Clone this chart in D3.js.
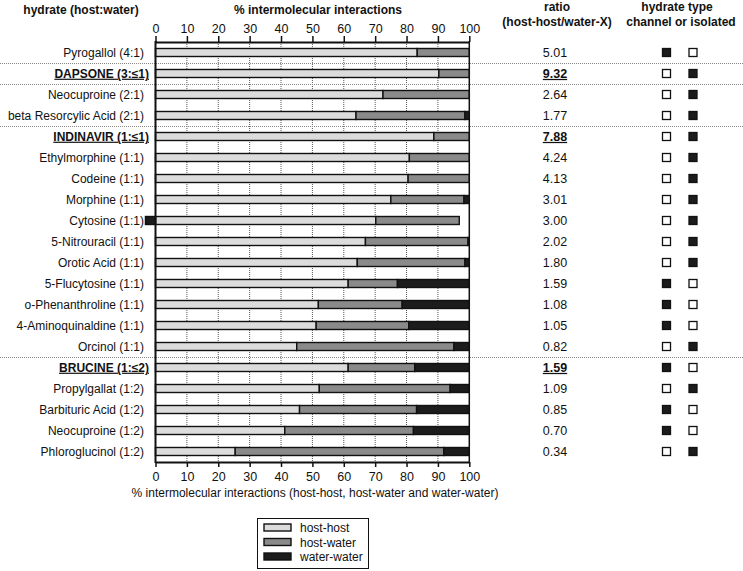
<!DOCTYPE html>
<html>
<head>
<meta charset="utf-8">
<script src="https://cdn.jsdelivr.net/npm/d3@7"></script>
<style>
  body { margin: 0; background: #fff; }
  svg { font-family: "Liberation Sans", Arial, sans-serif; }
  .lbl { font-size: 12px; fill: #111; }
  .hd { font-size: 12px; font-weight: bold; fill: #111; }
  .axis text { font-size: 12.5px; fill: #111; font-family: "Liberation Sans", Arial, sans-serif; }
</style>
</head>
<body>
<script>
// rows, top to bottom
const hydrates = [
  "Pyrogallol (4:1)", "DAPSONE (3:≤1)", "Neocuproine (2:1)", "beta Resorcylic Acid (2:1)",
  "INDINAVIR (1:≤1)", "Ethylmorphine (1:1)", "Codeine (1:1)", "Morphine (1:1)",
  "Cytosine (1:1)", "5-Nitrouracil (1:1)", "Orotic Acid (1:1)", "5-Flucytosine (1:1)",
  "o-Phenanthroline (1:1)", "4-Aminoquinaldine (1:1)", "Orcinol (1:1)", "BRUCINE (1:≤2)",
  "Propylgallat (1:2)", "Barbituric Acid (1:2)", "Neocuproine (1:2)", "Phloroglucinol (1:2)"
];
const hostHost   = [83.4, 90.3, 72.5, 63.9, 88.7, 80.9, 80.5, 75.0, 70.2, 66.9, 64.3, 61.4, 51.9, 51.2, 45.0, 61.4, 52.2, 45.9, 41.2, 25.4];
const hostWater  = [16.6,  9.7, 27.5, 34.7, 11.3, 19.1, 19.5, 23.3, 26.6, 32.7, 34.3, 15.7, 26.7, 29.5, 50.1, 21.2, 41.7, 37.3, 41.0, 66.5];
const waterWater = [ 0.0,  0.0,  0.0,  1.4,  0.0,  0.0,  0.0,  1.7, -3.2,  0.4,  1.4, 22.9, 21.4, 19.3,  4.9, 17.4,  6.1, 16.8, 17.8,  8.1];
const ratios     = [5.01, 9.32, 2.64, 1.77, 7.88, 4.24, 4.13, 3.01, 3.00, 2.02, 1.80, 1.59, 1.08, 1.05, 0.82, 1.59, 1.09, 0.85, 0.70, 0.34];
// hydrate type: true = channel, false = isolated
const isChannel  = [true, false, false, false, false, false, false, false, false, false, false, true, true, true, false, true, false, true, true, false];
const highlighted = ["DAPSONE (3:≤1)", "INDINAVIR (1:≤1)", "BRUCINE (1:≤2)"];
// dotted separator lines are drawn after these rows
const groupEnds  = ["Pyrogallol (4:1)", "DAPSONE (3:≤1)", "beta Resorcylic Acid (2:1)", "Orcinol (1:1)"];
const xTicks     = [0, 10, 20, 30, 40, 50, 60, 70, 80, 90, 100];
const seriesKeys = ["host-host", "host-water", "water-water"];
const seriesFill = ["#dcdcdc", "#8a8a8a", "#1c1c1c"];

const width = 743, height = 571;
const svg = d3.select("body").append("svg")
  .attr("width", width).attr("height", height);

const x = d3.scaleLinear().domain([0, 100]).range([155.5, 469.3]);
const y = d3.scaleBand().domain(hydrates).range([42, 462]);
const color = d3.scaleOrdinal().domain(seriesKeys).range(seriesFill);

const rows = hydrates.map((h, i) => ({
  name: h, "host-host": hostHost[i], "host-water": hostWater[i], "water-water": waterWater[i],
  ratio: ratios[i], channel: isChannel[i], bold: highlighted.includes(h)
}));

// headers
svg.append("text").attr("class", "hd").attr("x", 81).attr("y", 14).attr("text-anchor", "middle").text("hydrate (host:water)");
svg.append("text").attr("class", "hd").attr("x", 318).attr("y", 14).attr("text-anchor", "middle").text("% intermolecular interactions");
svg.append("text").attr("class", "hd").attr("x", 557).attr("y", 11).attr("text-anchor", "middle").text("ratio");
svg.append("text").attr("class", "hd").attr("x", 557).attr("y", 26).attr("text-anchor", "middle").text("(host-host/water-X)");
svg.append("text").attr("class", "hd").attr("x", 677).attr("y", 11).attr("text-anchor", "middle").text("hydrate type");
svg.append("text").attr("class", "hd").attr("x", 681).attr("y", 26).attr("text-anchor", "middle").text("channel or isolated");

// vertical dotted gridlines
svg.append("g")
  .selectAll("line")
  .data(xTicks.filter(t => t > 0 && t < 100))
  .enter().append("line")
  .attr("x1", d => x(d)).attr("x2", d => x(d))
  .attr("y1", y.range()[0]).attr("y2", y.range()[1])
  .attr("stroke", "#555").attr("stroke-width", 1).attr("stroke-dasharray", "1,1");

// group separators across the whole width
svg.append("g")
  .selectAll("line")
  .data(groupEnds)
  .enter().append("line")
  .attr("x1", 0).attr("x2", width)
  .attr("y1", d => y(d) + y.bandwidth() + 0.5).attr("y2", d => y(d) + y.bandwidth() + 0.5)
  .attr("stroke", "#888").attr("stroke-width", 1).attr("stroke-dasharray", "1,1");

// stacked bars (negative water-water goes left of zero)
const stack = d3.stack().keys(seriesKeys).offset(d3.stackOffsetDiverging);
const series = stack(rows);
const barH = 8;

svg.append("g")
  .selectAll("g")
  .data(series)
  .enter().append("g")
  .attr("fill", d => color(d.key))
  .selectAll("rect")
  .data(d => d.filter(s => s[1] !== s[0]))
  .enter().append("rect")
  .attr("x", d => x(d[0]))
  .attr("width", d => x(d[1]) - x(d[0]))
  .attr("y", d => y(d.data.name) + (y.bandwidth() - barH) / 2)
  .attr("height", barH)
  .attr("stroke", "#111").attr("stroke-width", 1.4);

// axes
const axisTopG = svg.append("g").attr("class", "axis")
  .attr("transform", `translate(0,${y.range()[0]})`)
  .call(d3.axisTop(x).tickValues(xTicks).tickSize(6).tickSizeOuter(0).tickPadding(3));
const axisBottomG = svg.append("g").attr("class", "axis")
  .attr("transform", `translate(0,${y.range()[1]})`)
  .call(d3.axisBottom(x).tickValues(xTicks).tickSize(5).tickSizeOuter(0).tickPadding(5));
[axisTopG, axisBottomG].forEach(a => {
  a.select(".domain").attr("stroke", "#111").attr("stroke-width", 2);
  a.selectAll(".tick line").attr("stroke", "#111").attr("stroke-width", 1.5);
});

// frame sides
svg.append("line").attr("x1", x(0)).attr("x2", x(0)).attr("y1", y.range()[0] - 1).attr("y2", y.range()[1] + 1)
  .attr("stroke", "#111").attr("stroke-width", 2);
svg.append("line").attr("x1", x(100)).attr("x2", x(100)).attr("y1", y.range()[0] - 1).attr("y2", y.range()[1] + 1)
  .attr("stroke", "#111").attr("stroke-width", 1.5);

// row labels
svg.append("g")
  .selectAll("text")
  .data(rows)
  .enter().append("text")
  .attr("class", "lbl")
  .attr("x", d => d.bold ? 149 : 144)
  .attr("y", d => y(d.name) + y.bandwidth() / 2)
  .attr("dy", ".35em")
  .attr("text-anchor", "end")
  .style("font-weight", d => d.bold ? "bold" : "normal")
  .style("text-decoration", d => d.bold ? "underline" : "none")
  .text(d => d.name);

// ratio column
svg.append("g")
  .selectAll("text")
  .data(rows)
  .enter().append("text")
  .attr("class", "lbl")
  .attr("x", 555)
  .attr("y", d => y(d.name) + y.bandwidth() / 2)
  .attr("dy", ".35em")
  .attr("text-anchor", "middle")
  .style("font-size", "12.5px")
  .style("font-weight", d => d.bold ? "bold" : "normal")
  .style("text-decoration", d => d.bold ? "underline" : "none")
  .text(d => d3.format(".2f")(d.ratio));

// hydrate type squares
const sq = 8;
const typeCols = [{ x: 666.5, channel: true }, { x: 693, channel: false }];
typeCols.forEach(c => {
  svg.append("g")
    .selectAll("rect")
    .data(rows)
    .enter().append("rect")
    .attr("x", c.x - sq / 2)
    .attr("y", d => y(d.name) + (y.bandwidth() - sq) / 2)
    .attr("width", sq).attr("height", sq)
    .attr("fill", d => d.channel === c.channel ? "#1c1c1c" : "#fff")
    .attr("stroke", "#111").attr("stroke-width", 1.3);
});

// x axis title
svg.append("text").attr("class", "lbl").attr("x", 315).attr("y", 497).attr("text-anchor", "middle")
  .text("% intermolecular interactions (host-host, host-water and water-water)");

// legend
const legend = svg.append("g");
legend.append("rect").attr("x", 257.5).attr("y", 518.5).attr("width", 111).attr("height", 50)
  .attr("fill", "#fff").attr("stroke", "#111").attr("stroke-width", 1);
const item = legend.selectAll("g.item")
  .data(seriesKeys)
  .enter().append("g").attr("class", "item")
  .attr("transform", (d, i) => `translate(264,${524 + i * 14.5})`);
item.append("rect").attr("width", 27).attr("height", 7)
  .attr("fill", d => color(d)).attr("stroke", "#111").attr("stroke-width", 1.4);
item.append("text").attr("class", "lbl").attr("x", 36).attr("y", 4).attr("dy", ".35em").text(d => d);
</script>
</body>
</html>
